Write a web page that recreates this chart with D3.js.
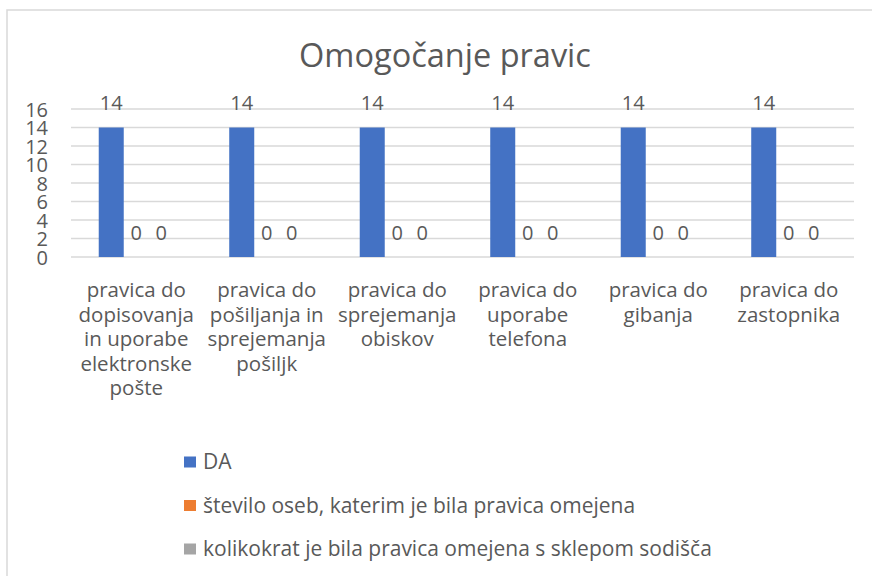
<!DOCTYPE html>
<html lang="sl">
<head>
<meta charset="UTF-8">
<title>Omogočanje pravic</title>
<script src="https://d3js.org/d3.v7.min.js"></script>
<style>
body { margin: 0; background: #fff; }
svg text { font-family: 'Open Sans', sans-serif; fill: #595959; }
</style>
</head>
<body>
<svg id="chart"></svg>
<script>
const categories = [
    ['pravica do', 'dopisovanja', 'in uporabe', 'elektronske', 'pošte'],
    ['pravica do', 'pošiljanja in', 'sprejemanja', 'pošiljk'],
    ['pravica do', 'sprejemanja', 'obiskov'],
    ['pravica do', 'uporabe', 'telefona'],
    ['pravica do', 'gibanja'],
    ['pravica do', 'zastopnika']
]
const seriesNames = ['DA', 'število oseb, katerim je bila pravica omejena', 'kolikokrat je bila pravica omejena s sklepom sodišča']
const seriesColors = ['#4472C4', '#ED7D31', '#A5A5A5']
const da = [14, 14, 14, 14, 14, 14]
const omejena = [0, 0, 0, 0, 0, 0]
const sklep = [0, 0, 0, 0, 0, 0]
const yTicks = [0, 2, 4, 6, 8, 10, 12, 14, 16]

let width = 872
let height = 576
let plotLeft = 71, plotRight = 854, plotTop = 109, plotBottom = 257

let svg = d3.select('#chart').attr('width', width).attr('height', height)

svg.append('rect')
    .attr('x', 7).attr('y', 10)
    .attr('width', width).attr('height', height)
    .attr('fill', 'none').attr('stroke', '#d9d9d9').attr('stroke-width', 1.5)

svg.append('text')
    .attr('x', 445).attr('y', 67)
    .attr('text-anchor', 'middle')
    .style('font-size', '32.5px')
    .text('Omogočanje pravic')

let yScale = d3.scaleLinear().domain([0, 16]).range([plotBottom, plotTop])
let xScale = d3.scaleBand().domain(d3.range(categories.length)).range([plotLeft, plotRight]).paddingInner(0.425).paddingOuter(0.2125)
let inner = d3.scaleBand().domain(d3.range(3)).range([0, xScale.bandwidth()])

// gridlines
svg.append('g')
    .selectAll('line')
    .data(yTicks)
    .join('line')
    .attr('x1', plotLeft).attr('x2', plotRight)
    .attr('y1', d => yScale(d)).attr('y2', d => yScale(d))
    .attr('stroke', '#d9d9d9').attr('stroke-width', 1.3)

let yAxis = d3.axisLeft(yScale).tickValues(yTicks).tickSize(0).tickPadding(0)
let gy = svg.append('g').attr('transform', 'translate(48,0)').call(yAxis)
gy.select('.domain').remove()
gy.selectAll('text').style('font-size', '20px').attr('dy', '0.35em').style('fill', '#595959').style('font-family', "'Open Sans', sans-serif")

let series = [da, omejena, sklep]
let groups = svg.append('g')
    .selectAll('g')
    .data(series)
    .join('g')
    .attr('fill', (d, i) => seriesColors[i])

groups.each(function (values, s) {
    let g = d3.select(this)
    g.selectAll('rect')
        .data(values)
        .join('rect')
        .attr('x', (d, i) => xScale(i) + inner(s))
        .attr('width', inner.bandwidth())
        .attr('y', d => yScale(d))
        .attr('height', d => yScale(0) - yScale(d))
    g.selectAll('text')
        .data(values)
        .join('text')
        .attr('x', (d, i) => xScale(i) + inner(s) + inner.bandwidth() / 2)
        .attr('y', d => yScale(d) - 17.5)
        .attr('text-anchor', 'middle')
        .style('font-size', '20px')
        .text(d => d)
})

// category labels
let cat = svg.append('g')
    .selectAll('text')
    .data(categories)
    .join('text')
    .attr('text-anchor', 'middle')
    .attr('x', (d, i) => xScale(i) + xScale.bandwidth() / 2)
    .attr('y', 297)
    .style('font-size', '20.5px')

cat.selectAll('tspan')
    .data(d => d)
    .join('tspan')
    .attr('x', function () { return d3.select(this.parentNode).attr('x') })
    .attr('dy', (d, i) => i === 0 ? 0 : 24.5)
    .text(d => d)

// legend
let legend = svg.append('g')
    .selectAll('g')
    .data(seriesNames)
    .join('g')
    .attr('transform', (d, i) => 'translate(184,' + (462 + i * 43.5) + ')')

legend.append('rect')
    .attr('x', 0).attr('y', -5.5)
    .attr('width', 12).attr('height', 11)
    .attr('fill', (d, i) => seriesColors[i])

legend.append('text')
    .attr('x', 19).attr('y', 7)
    .style('font-size', '21px')
    .text(d => d)
</script>
</body>
</html>
